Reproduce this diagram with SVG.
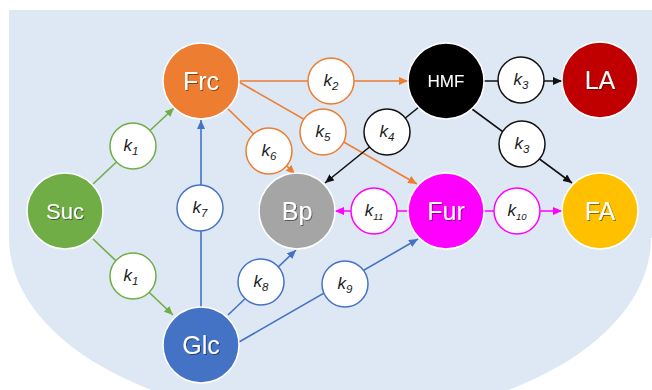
<svg xmlns="http://www.w3.org/2000/svg" width="652" height="390" viewBox="0 0 652 390">
  <style>
    .node { stroke: #ffffff; stroke-width: 1.5; }
    .name { font-family: "Liberation Sans", Arial, sans-serif; fill: #ffffff; text-anchor: middle; filter: url(#shadow); }
    .rate { fill: #ffffff; stroke-width: 1.5; }
    .k { font-family: "Liberation Sans", Arial, sans-serif; font-style: italic; font-size: 17px; fill: #1a1a1a; text-anchor: middle; }
    .sub { font-size: 11.5px; }
    .sub2 { font-size: 9.5px; }
    .edge { fill: none; stroke-width: 1.6; }
    .green { stroke: #70AD47; }
    .orange { stroke: #ED7D31; }
    .black { stroke: #111111; }
    .magenta { stroke: #FF00FF; }
    .blue { stroke: #4472C4; }
  </style>
  <defs>
    <filter id="shadow" x="-20%" y="-20%" width="140%" height="140%">
      <feDropShadow dx="1" dy="1" stdDeviation="0.7" flood-color="#000000" flood-opacity="0.45"/>
    </filter>
    <marker id="ah-green" markerUnits="userSpaceOnUse" markerWidth="10" markerHeight="8" refX="9" refY="4" orient="auto">
      <path d="M0,0 L9,4 L0,8 Z" fill="#70AD47"/>
    </marker>
    <marker id="ah-orange" markerUnits="userSpaceOnUse" markerWidth="10" markerHeight="8" refX="9" refY="4" orient="auto">
      <path d="M0,0 L9,4 L0,8 Z" fill="#ED7D31"/>
    </marker>
    <marker id="ah-black" markerUnits="userSpaceOnUse" markerWidth="10" markerHeight="8" refX="9" refY="4" orient="auto">
      <path d="M0,0 L9,4 L0,8 Z" fill="#111111"/>
    </marker>
    <marker id="ah-magenta" markerUnits="userSpaceOnUse" markerWidth="10" markerHeight="8" refX="9" refY="4" orient="auto">
      <path d="M0,0 L9,4 L0,8 Z" fill="#FF00FF"/>
    </marker>
    <marker id="ah-blue" markerUnits="userSpaceOnUse" markerWidth="10" markerHeight="8" refX="9" refY="4" orient="auto">
      <path d="M0,0 L9,4 L0,8 Z" fill="#4472C4"/>
    </marker>
  </defs>

  <!-- backdrop: rectangle with an elliptical lower edge -->
  <path id="backdrop" d="M9,10 H652 V238 H651 A321,183 0 0 1 9,238 Z" fill="#DEE8F5"/>

  <!-- reaction connectors -->
  <g id="connectors">
    <line class="edge green" x1="93" y1="184" x2="174" y2="108" marker-end="url(#ah-green)"/>
    <line class="edge green" x1="93" y1="239" x2="173" y2="315" marker-end="url(#ah-green)"/>
    <line class="edge orange" x1="239" y1="81" x2="408" y2="81" marker-end="url(#ah-orange)"/>
    <line class="edge orange" x1="239" y1="82" x2="417" y2="184" marker-end="url(#ah-orange)"/>
    <line class="edge orange" x1="227" y1="108" x2="295" y2="174" marker-end="url(#ah-orange)"/>
    <line class="edge black" x1="484" y1="81" x2="562" y2="81" marker-end="url(#ah-black)"/>
    <line class="edge black" x1="472" y1="109" x2="572" y2="183" marker-end="url(#ah-black)"/>
    <line class="edge black" x1="419" y1="107" x2="325" y2="183" marker-end="url(#ah-black)"/>
    <line class="edge magenta" x1="408" y1="211" x2="335" y2="211" marker-end="url(#ah-magenta)"/>
    <line class="edge magenta" x1="484" y1="211" x2="562" y2="211" marker-end="url(#ah-magenta)"/>
    <line class="edge blue" x1="201" y1="308" x2="201" y2="120" marker-end="url(#ah-blue)"/>
    <line class="edge blue" x1="228" y1="315" x2="296" y2="250" marker-end="url(#ah-blue)"/>
    <line class="edge blue" x1="239" y1="342" x2="418" y2="239" marker-end="url(#ah-blue)"/>
  </g>

  <!-- rate constants -->
  <g id="k1-a"><circle class="rate green" cx="133" cy="146" r="23"/><text class="k" x="131" y="151">k<tspan class="sub" dy="4">1</tspan></text></g>
  <g id="k1-b"><circle class="rate green" cx="133" cy="276" r="23"/><text class="k" x="131" y="281">k<tspan class="sub" dy="4">1</tspan></text></g>
  <g id="k2"><circle class="rate orange" cx="331" cy="81" r="23"/><text class="k" x="331" y="86">k<tspan class="sub" dy="4">2</tspan></text></g>
  <g id="k3-a"><circle class="rate black" cx="521" cy="80" r="23"/><text class="k" x="521" y="85">k<tspan class="sub" dy="4">3</tspan></text></g>
  <g id="k3-b"><circle class="rate black" cx="522" cy="144" r="23"/><text class="k" x="522" y="149">k<tspan class="sub" dy="4">3</tspan></text></g>
  <g id="k4"><circle class="rate black" cx="387" cy="132" r="23"/><text class="k" x="387" y="137">k<tspan class="sub" dy="4">4</tspan></text></g>
  <g id="k5"><circle class="rate orange" cx="323" cy="132" r="23"/><text class="k" x="323" y="137">k<tspan class="sub" dy="4">5</tspan></text></g>
  <g id="k6"><circle class="rate orange" cx="269" cy="151" r="23"/><text class="k" x="269" y="156">k<tspan class="sub" dy="4">6</tspan></text></g>
  <g id="k7"><circle class="rate blue" cx="200" cy="208" r="23"/><text class="k" x="200" y="213">k<tspan class="sub" dy="4">7</tspan></text></g>
  <g id="k8"><circle class="rate blue" cx="261" cy="282" r="23"/><text class="k" x="261" y="287">k<tspan class="sub" dy="4">8</tspan></text></g>
  <g id="k9"><circle class="rate blue" cx="345" cy="284" r="23"/><text class="k" x="345" y="289">k<tspan class="sub" dy="4">9</tspan></text></g>
  <g id="k10"><circle class="rate magenta" cx="517" cy="211" r="23"/><text class="k" x="517" y="216">k<tspan class="sub2" dy="4">10</tspan></text></g>
  <g id="k11"><circle class="rate magenta" cx="374" cy="211" r="23"/><text class="k" x="374" y="216">k<tspan class="sub2" dy="4">11</tspan></text></g>

  <!-- species -->
  <g id="Suc"><circle class="node" cx="65" cy="211" r="38" fill="#70AD47"/><text class="name" x="65" y="219" font-size="22">Suc</text></g>
  <g id="Frc"><circle class="node" cx="201" cy="81" r="38" fill="#ED7D31"/><text class="name" x="201" y="90" font-size="25">Frc</text></g>
  <g id="Glc"><circle class="node" cx="201" cy="345" r="38" fill="#4472C4"/><text class="name" x="201" y="354" font-size="25">Glc</text></g>
  <g id="Bp"><circle class="node" cx="297" cy="211" r="38" fill="#A5A5A5"/><text class="name" x="297" y="220" font-size="25">Bp</text></g>
  <g id="HMF"><circle class="node" cx="446" cy="81" r="38" fill="#000000"/><text class="name" x="446" y="87" font-size="17">HMF</text></g>
  <g id="Fur"><circle class="node" cx="446" cy="211" r="38" fill="#FF00FF"/><text class="name" x="446" y="220" font-size="25">Fur</text></g>
  <g id="LA"><circle class="node" cx="600" cy="80" r="38" fill="#C00000"/><text class="name" x="600" y="89" font-size="25">LA</text></g>
  <g id="FA"><circle class="node" cx="600" cy="211" r="38" fill="#FFC000"/><text class="name" x="600" y="220" font-size="25">FA</text></g>
</svg>
